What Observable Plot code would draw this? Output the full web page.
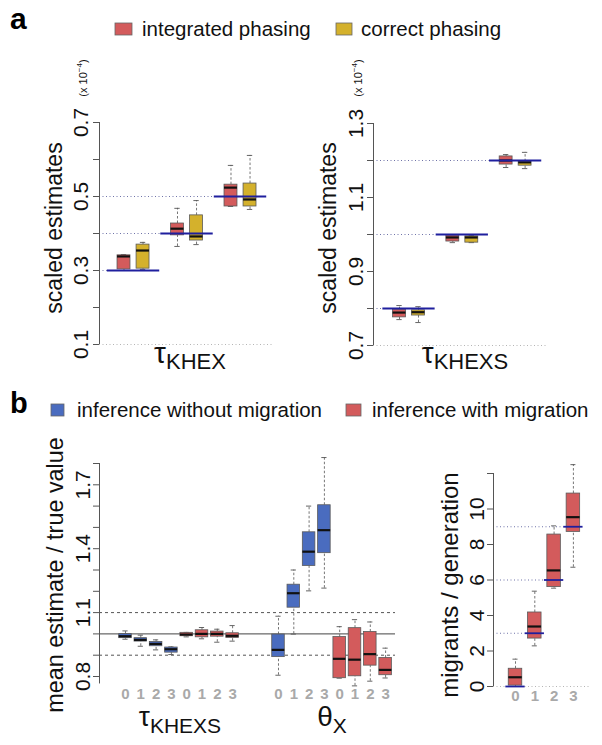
<!DOCTYPE html>
<html><head><meta charset="utf-8">
<script src="https://cdn.jsdelivr.net/npm/d3@7"></script>
<script src="https://cdn.jsdelivr.net/npm/@observablehq/plot@0.6"></script>
<style>
body{margin:0;background:#fff;}
#fig{position:relative;width:602px;height:745px;overflow:hidden;background:#fff;font-family:"Liberation Sans",Arial,sans-serif;}
#fig svg{position:absolute;}
</style></head><body><div id="fig"></div>
<script>
// ---------------- DATA ----------------
// box statistics: [lower whisker, q1, median, q3, upper whisker]
const phasingLabels = ["integrated phasing", "correct phasing"];
const tauKHEXtrue = [0.3, 0.4, 0.5];
const tauKHEXintegrated = [[0.300,0.303,0.338,0.341,0.343],[0.365,0.395,0.413,0.427,0.468],[0.473,0.473,0.524,0.532,0.584]];
const tauKHEXcorrect    = [[0.303,0.305,0.354,0.370,0.376],[0.370,0.381,0.392,0.449,0.489],[0.465,0.473,0.492,0.535,0.611]];
const tauKHEXticks = [0.1,0.2,0.3,0.4,0.5,0.6,0.7];
const tauKHEXtickLabels = [0.1,0.3,0.5,0.7];

const tauKHEXStrue = [0.8, 1.0, 1.2];
const tauKHEXSintegrated = [[0.770,0.776,0.789,0.797,0.808],[0.978,0.981,0.992,0.997,0.999],[1.181,1.189,1.200,1.211,1.216]];
const tauKHEXScorrect    = [[0.762,0.781,0.790,0.795,0.805],[0.978,0.978,0.992,0.995,0.997],[1.178,1.186,1.195,1.197,1.222]];
const tauKHEXSticks = [0.7,0.8,0.9,1.0,1.1,1.2,1.3];
const tauKHEXStickLabels = [0.7,0.9,1.1,1.3];

const inferenceLabels = ["inference without migration", "inference with migration"];
const migrationLevels = ["0","1","2","3"];
const tauNoMig   = [[0.975,0.980,0.989,0.999,1.014],[0.942,0.964,0.972,0.980,0.994],[0.925,0.942,0.953,0.962,0.972],[0.903,0.912,0.928,0.936,0.939]];
const tauMig     = [[0.986,0.989,0.997,1.005,1.007],[0.977,0.984,1.000,1.017,1.030],[0.961,0.987,1.000,1.011,1.022],[0.966,0.981,0.991,1.003,1.039]];
const thetaNoMig = [[0.806,0.891,0.925,0.997,1.083],[0.999,1.123,1.191,1.231,1.300],[1.202,1.319,1.386,1.477,1.600],[1.215,1.379,1.487,1.604,1.828]];
const thetaMig   = [[0.792,0.792,0.883,0.985,1.034],[0.756,0.801,0.879,1.027,1.067],[0.778,0.851,0.905,1.009,1.056],[0.793,0.806,0.831,0.887,0.933]];
const ratioTicks = [0.8,0.9,1.0,1.1,1.2,1.3,1.4,1.5,1.6,1.7,1.8];
const ratioTickLabels = [0.8,1.1,1.4,1.7];
const ratioRefLines = [0.9, 1.1];

const migrantsTrue = [0, 3, 6, 9];
const migrantsEst = [[0.00,0.05,0.52,1.00,1.54],[2.29,2.70,3.38,4.17,5.37],[5.54,5.60,6.54,8.56,9.05],[6.72,8.71,9.54,10.87,12.5]];
const migrantsTicks = [0,2,4,6,8,10,12];
const migrantsTickLabels = [0,2,4,6,8,10];

// ---------------- STYLE ----------------
const RED = "#d35b5c", YELLOW = "#d4b12c", BLUE = "#4a6cbf", NAVY = "#1f1f9e";
const FONT = "Liberation Sans, Arial, sans-serif";
const fig = document.getElementById("fig");

function place(el, left, top) { el.style.left = left + "px"; el.style.top = top + "px"; fig.appendChild(el); }
function margins(L, T, W, H, fl, fr, ft, fb) {
  return {width: W, height: H, marginLeft: fl - L, marginRight: L + W - fr, marginTop: ft - T, marginBottom: T + H - fb};
}
function toRows(stats, xs, fill, extra = {}) {
  return stats.map((s, i) => ({x: xs[i], lo: s[0], q1: s[1], med: s[2], q3: s[3], hi: s[4], fill, ...extra, i}));
}
function boxMarks(rows, hw, cw) {
  return [
    Plot.ruleX(rows, {x: "x", y1: "lo", y2: "q1", stroke: "#666", strokeWidth: 0.9, strokeDasharray: "2.5,2"}),
    Plot.ruleX(rows, {x: "x", y1: "q3", y2: "hi", stroke: "#666", strokeWidth: 0.9, strokeDasharray: "2.5,2"}),
    Plot.ruleY(rows, {y: "lo", x1: d => d.x - cw, x2: d => d.x + cw, stroke: "#555", strokeWidth: 0.9}),
    Plot.ruleY(rows, {y: "hi", x1: d => d.x - cw, x2: d => d.x + cw, stroke: "#555", strokeWidth: 0.9}),
    Plot.rect(rows, {x1: d => d.x - hw, x2: d => d.x + hw, y1: "q1", y2: "q3", fill: "fill", stroke: "#5a5a5a", strokeWidth: 0.8}),
    Plot.ruleY(rows, {y: "med", x1: d => d.x - hw, x2: d => d.x + hw, stroke: "#111", strokeWidth: 2.2})
  ];
}
function tickLabels(labels, fmt, fs, off) {
  return Plot.text(labels, {y: d => d, text: fmt, frameAnchor: "left", textAnchor: "middle", lineAnchor: "middle",
    dx: -off, rotate: -90, fontSize: fs, fill: "#111"});
}
function axisMarks(x0, ticks, labels, fmt, fs, off, yLow) {
  return [
    Plot.ruleX([x0], {y1: yLow ?? ticks[0], y2: ticks[ticks.length - 1], stroke: "#555", strokeWidth: 1}),
    Plot.axisY({ticks, tickSize: 6, tickFormat: () => "", stroke: "#555", label: null}),
    tickLabels(labels, fmt, fs, off)
  ];
}
const baseStyle = {background: "transparent", overflow: "visible", fontFamily: FONT};

// ---------------- PANEL a (left) ----------------
{
  const xd = [0.364, 3.598];
  const g = [1, 2, 3];
  const rows = [
    ...toRows(tauKHEXintegrated, g.map(v => v - 0.178), RED),
    ...toRows(tauKHEXcorrect, g.map(v => v + 0.178), YELLOW)
  ];
  const truth = tauKHEXtrue.map((v, i) => ({v, g: g[i]}));
  const p = Plot.plot({
    ...margins(0, 40, 300, 330, 99, 272, 122, 344),
    x: {domain: xd, axis: null},
    y: {domain: [0.1, 0.7]},
    color: {type: "identity"},
    style: baseStyle,
    marks: [
      Plot.ruleY([0.1], {x1: xd[0], x2: xd[1], stroke: "#b5b5b5", strokeDasharray: "1,2.5"}),
      Plot.ruleY(truth, {y: "v", x1: xd[0], x2: d => d.g - 0.49, stroke: "#6f73a8", strokeDasharray: "1,2.5"}),
      ...boxMarks(rows, 0.121, 0.05),
      Plot.ruleY(truth, {y: "v", x1: d => d.g - 0.49, x2: d => d.g + 0.49, stroke: NAVY, strokeWidth: 1.8}),
      ...axisMarks(xd[0], tauKHEXticks, tauKHEXtickLabels, d => d.toFixed(1), 21, 18)
    ]
  });
  place(p, 0, 40);
}

// ---------------- PANEL a (right) ----------------
{
  const xd = [0.334, 3.598];
  const g = [1, 2, 3];
  const rows = [
    ...toRows(tauKHEXSintegrated, g.map(v => v - 0.178), RED),
    ...toRows(tauKHEXScorrect, g.map(v => v + 0.178), YELLOW)
  ];
  const truth = tauKHEXStrue.map((v, i) => ({v, g: g[i]}));
  const p = Plot.plot({
    ...margins(300, 40, 302, 330, 373, 547, 123, 345),
    x: {domain: xd, axis: null},
    y: {domain: [0.7, 1.3]},
    color: {type: "identity"},
    style: baseStyle,
    marks: [
      Plot.ruleY([0.7], {x1: xd[0], x2: xd[1], stroke: "#b5b5b5", strokeDasharray: "1,2.5"}),
      Plot.ruleY(truth, {y: "v", x1: xd[0], x2: d => d.g - 0.49, stroke: "#6f73a8", strokeDasharray: "1,2.5"}),
      ...boxMarks(rows, 0.121, 0.05),
      Plot.ruleY(truth, {y: "v", x1: d => d.g - 0.49, x2: d => d.g + 0.49, stroke: NAVY, strokeWidth: 1.8}),
      ...axisMarks(xd[0], tauKHEXSticks, tauKHEXStickLabels, d => d.toFixed(1), 21, 17)
    ]
  });
  place(p, 300, 40);
}

// ---------------- PANEL b (main) ----------------
{
  const xd = [-0.699, 18.647];
  const rows = [
    ...toRows(tauNoMig, [1,2,3,4], BLUE),
    ...toRows(tauMig, [5,6,7,8], RED),
    ...toRows(thetaNoMig, [11,12,13,14], BLUE),
    ...toRows(thetaMig, [15,16,17,18], RED)
  ].map(d => ({...d, lev: migrationLevels[d.i]}));
  const p = Plot.plot({
    ...margins(0, 430, 420, 280, 99, 395, 463, 676),
    x: {domain: xd, axis: null},
    y: {domain: [0.8, 1.8]},
    color: {type: "identity"},
    style: baseStyle,
    marks: [
      Plot.ruleY([1.0], {x1: xd[0], x2: xd[1], stroke: "#444", strokeWidth: 1}),
      Plot.ruleY(ratioRefLines, {x1: xd[0], x2: xd[1], stroke: "#555", strokeWidth: 1, strokeDasharray: "3,3"}),
      ...boxMarks(rows, 0.41, 0.17),
      ...axisMarks(xd[0], ratioTicks, ratioTickLabels, d => d.toFixed(1), 21, 16, 0.765),
      Plot.text(rows, {x: "x", text: "lev", frameAnchor: "bottom", lineAnchor: "middle", dy: 18, fill: "#a9a9a9", fontWeight: "bold", fontSize: 15})
    ]
  });
  place(p, 0, 430);
}

// ---------------- PANEL b (migrants) ----------------
{
  const xd = [-1.14, 3.886];
  const xs = [0, 1, 2, 3];
  const rows = toRows(migrantsEst, xs, RED).map(d => ({...d, lev: migrationLevels[d.i]}));
  const truth = migrantsTrue.map((v, i) => ({v, g: xs[i]}));
  const p = Plot.plot({
    ...margins(420, 430, 182, 280, 493, 590, 473, 686),
    x: {domain: xd, axis: null},
    y: {domain: [0, 12]},
    color: {type: "identity"},
    style: baseStyle,
    marks: [
      Plot.ruleY([0], {x1: xd[0], x2: xd[1], stroke: "#b5b5b5", strokeDasharray: "1,2.5"}),
      Plot.ruleY(truth.slice(1), {y: "v", x1: xd[0], x2: d => d.g - 0.5, stroke: "#6f73a8", strokeDasharray: "1,2.5"}),
      ...boxMarks(rows, 0.35, 0.13),
      Plot.ruleY(truth, {y: "v", x1: d => d.g - 0.5, x2: d => d.g + 0.5, stroke: NAVY, strokeWidth: 1.8}),
      ...axisMarks(xd[0], migrantsTicks, migrantsTickLabels, d => String(d), 21, 16),
      Plot.text(rows, {x: "x", text: "lev", frameAnchor: "bottom", lineAnchor: "middle", dy: 10, fill: "#a9a9a9", fontWeight: "bold", fontSize: 15})
    ]
  });
  place(p, 420, 430);
}

// ---------------- ANNOTATIONS (legends, titles) ----------------
const svg = d3.select(fig).append("svg")
  .attr("width", 602).attr("height", 745)
  .style("left", "0px").style("top", "0px")
  .attr("font-family", FONT);

svg.append("text").attr("x", 10).attr("y", 29).attr("font-size", 30).attr("font-weight", "bold").text("a");
svg.append("text").attr("x", 10).attr("y", 413).attr("font-size", 29).attr("font-weight", "bold").text("b");

const legA = [{x: 115, w: 17, color: RED, tx: 142, label: phasingLabels[0]}, {x: 336, w: 16, color: YELLOW, tx: 361, label: phasingLabels[1]}];
legA.forEach(l => {
  svg.append("rect").attr("x", l.x).attr("y", 23).attr("width", l.w).attr("height", 12).attr("fill", l.color).attr("stroke", "#666").attr("stroke-width", 0.8);
  svg.append("text").attr("x", l.tx).attr("y", 36).attr("font-size", 20.5).attr("fill", "#111").text(l.label);
});
const legB = [{x: 51, w: 13, color: BLUE, tx: 77, label: inferenceLabels[0]}, {x: 346, w: 15, color: RED, tx: 372, label: inferenceLabels[1]}];
legB.forEach(l => {
  svg.append("rect").attr("x", l.x).attr("y", 404).attr("width", l.w).attr("height", 12).attr("fill", l.color).attr("stroke", "#666").attr("stroke-width", 0.8);
  svg.append("text").attr("x", l.tx).attr("y", 417).attr("font-size", 20.5).attr("fill", "#111").text(l.label);
});

function vtitle(x, y, txt, fs) {
  svg.append("text").attr("transform", `translate(${x},${y}) rotate(-90)`).attr("text-anchor", "middle")
    .attr("font-size", fs).attr("fill", "#111").text(txt);
}
vtitle(62, 228, "scaled estimates", 23);
vtitle(336, 228, "scaled estimates", 23);
vtitle(63, 575, "mean estimate / true value", 23.4);
vtitle(458, 585, "migrants / generation", 24);

function scaleNote(x, y) {
  const t = svg.append("text").attr("transform", `translate(${x},${y}) rotate(-90)`).attr("text-anchor", "middle")
    .attr("font-size", 11).attr("fill", "#111");
  t.append("tspan").text("(x 10");
  t.append("tspan").attr("font-size", 8).attr("dy", -5).text("\u22124");
  t.append("tspan").attr("dy", 5).text(")");
}
scaleNote(87, 78);
scaleNote(362, 78);

function param(x, y, sym, sub, fs1, fs2, dy) {
  const t = svg.append("text").attr("x", x).attr("y", y).attr("text-anchor", "middle").attr("fill", "#111");
  t.append("tspan").attr("font-size", fs1).text(sym);
  t.append("tspan").attr("font-size", fs2).attr("dy", dy).text(sub);
}
param(190, 363, "\u03c4", "KHEX", 30, 22, 6);
param(465, 363, "\u03c4", "KHEXS", 30, 22, 6);
param(180, 726, "\u03c4", "KHEXS", 28, 21, 7);
param(332, 726, "\u03b8", "X", 28, 21, 7);
</script>
</body></html>
